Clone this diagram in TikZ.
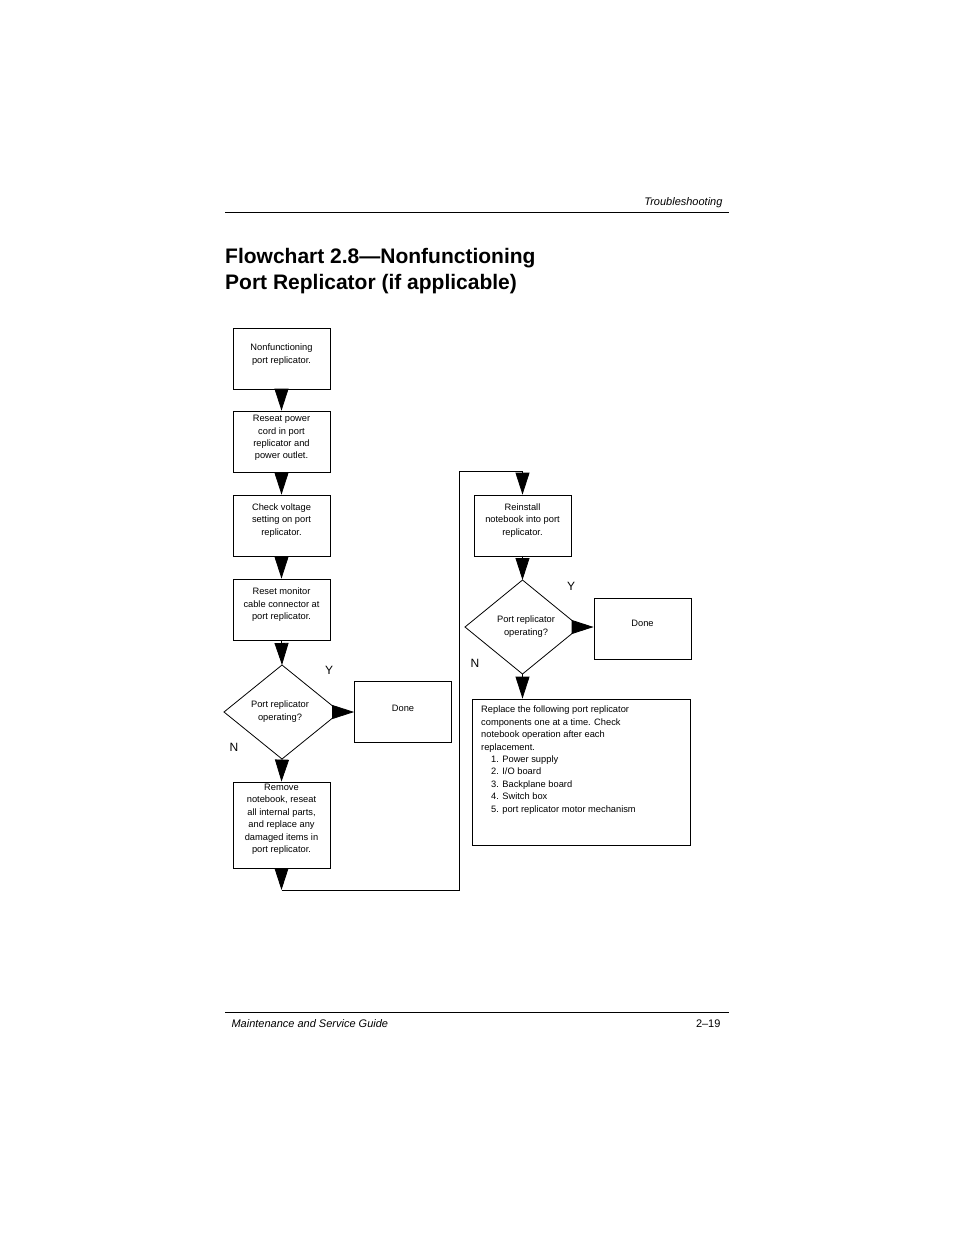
\documentclass[tikz,border=0pt]{standalone}
\usepackage{fontspec}
\setmainfont{Liberation Sans}
\usetikzlibrary{arrows.meta}
\tikzset{
	stepbox/.style={draw, thick, minimum width=97pt, minimum height=61pt, inner sep=0pt},
	boxtext/.style={anchor=north, align=center, font=\fontsize{9.3}{12.4}\selectfont, inner sep=0pt},
	flow/.style={thick, -{Triangle[length=22pt,width=14pt]}},
	yn/.style={font=\fontsize{12}{12}\selectfont}
}
\begin{document}
\begin{tikzpicture}[x=1pt,y=-1pt]
\useasboundingbox (0,0) rectangle (954,1235);
% header and footer
\draw (225,212) -- (729,212);
\node[anchor=base east, font=\itshape\fontsize{11}{12}\selectfont] (head) at (726,205) {Troubleshooting};
\draw (225,1012) -- (729,1012);
\node[anchor=base west, font=\itshape\fontsize{11}{12}\selectfont] (foot) at (228,1027) {Maintenance and Service Guide};
\node[anchor=base east, font=\fontsize{11}{12}\selectfont] (page) at (724,1027) {2--19};
\node[anchor=north west, align=left, font=\bfseries\fontsize{21}{26}\selectfont, inner sep=0pt] (title) at (225,248)
	{Flowchart 2.8---Nonfunctioning\\Port Replicator (if applicable)};
% left column
\node[stepbox] (nonf) at (281.5,358.5) {};
\node[boxtext] at (281.5,344) {Nonfunctioning\\port replicator.};
\node[stepbox] (reseat) at (281.5,441.5) {};
\node[boxtext] at (281.5,415) {Reseat power\\cord in port\\replicator and\\power outlet.};
\node[stepbox] (volt) at (281.5,525.5) {};
\node[boxtext] at (281.5,503.5) {Check voltage\\setting on port\\replicator.};
\node[stepbox] (monitor) at (281.5,609.5) {};
\node[boxtext] at (281.5,588) {Reset monitor\\cable connector at\\port replicator.};
\draw[thick] (282,665) coordinate (ask1top) -- (340,712) coordinate (ask1right)
	-- (282,759) coordinate (ask1bot) -- (224,712) -- cycle;
\node[boxtext] at (280,701) {Port replicator\\operating?};
\node[stepbox] (done1) at (403,711.5) {};
\node[boxtext] at (403,705) {Done};
\node[stepbox, minimum height=86pt] (remove) at (281.5,825) {};
\node[boxtext, font=\fontsize{9.3}{12.5}\selectfont] at (281.5,783.5) {Remove\\notebook, reseat\\all internal parts,\\and replace any\\damaged items in\\port replicator.};
\node[yn] (y1) at (329,670) {Y};
\node[yn] (n1) at (234,747) {N};
% right column
\node[stepbox] (reinst) at (522.5,525.5) {};
\node[boxtext] at (522.5,503.5) {Reinstall\\notebook into port\\replicator.};
\draw[thick] (522.5,580) coordinate (ask2top) -- (580,627) coordinate (ask2right)
	-- (522.5,674) coordinate (ask2bot) -- (465,627) -- cycle;
\node[boxtext] at (526,616) {Port replicator\\operating?};
\node[stepbox] (done2) at (642.5,628.5) {};
\node[boxtext] at (642.5,620) {Done};
\node[stepbox, minimum width=218pt, minimum height=146pt] (replace) at (581,772) {};
\node[boxtext, anchor=north west, align=left] at (481,706)
	{Replace the following port replicator\\components one at a time. Check\\notebook operation after each\\replacement.\\
	\hspace*{10pt}1. Power supply\\\hspace*{10pt}2. I/O board\\\hspace*{10pt}3. Backplane board\\\hspace*{10pt}4. Switch box\\\hspace*{10pt}5. port replicator motor mechanism};
\node[yn] (y2) at (571,586) {Y};
\node[yn] (n2) at (475,663) {N};
% connectors
\draw[flow] (nonf) -- (reseat);
\draw[flow] (reseat) -- (volt);
\draw[flow] (volt) -- (monitor);
\draw[flow] (monitor.south) -- (ask1top);
\draw[flow] (ask1right) -- (done1.west |- ask1right);
\draw[flow] (ask1bot) -- (remove.north);
\coordinate (turn) at (281.5,890);
\draw[flow] (remove) -- (turn);
\draw[thick] (turn) -- (459,890) -- (459,471) -- (522.5,471) coordinate (top);
\draw[flow] (top) -- (reinst);
\draw[flow] (reinst.south) -- (ask2top);
\draw[flow] (ask2right) -- (done2.west |- ask2right);
\draw[flow] (ask2bot) -- (ask2bot |- replace.north);
\end{tikzpicture}
\end{document}
